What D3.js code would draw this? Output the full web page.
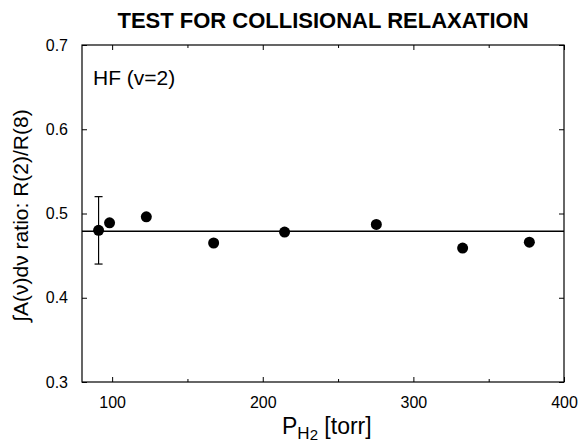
<!DOCTYPE html>
<html><head><meta charset="utf-8">
<script src="https://cdn.jsdelivr.net/npm/d3@7"></script>
<style>body{margin:0;background:#fff;} svg{display:block;font-family:"Liberation Sans",Arial,sans-serif;}</style>
</head><body>
<svg id="chart" width="579" height="442"></svg>
<script>
const pressure = [91, 98.3, 122.7, 167.4, 214.5, 275.4, 332.7, 377];
const ratio = [0.480, 0.489, 0.496, 0.465, 0.478, 0.487, 0.459, 0.466];
const errLow = [0.440, null, null, null, null, null, null, null];
const errHigh = [0.520, null, null, null, null, null, null, null];
const fitLevel = [0.479];
const xTicks = [100, 200, 300, 400];
const xMinorTicks = [150, 250, 350];
const yTicks = [0.3, 0.4, 0.5, 0.6, 0.7];
const xDomain = [80, 400];
const yDomain = [0.3, 0.7];
const title = "TEST FOR COLLISIONAL RELAXATION";
const annotation = "HF (v=2)";

const svg = d3.select("#chart");
const m = {l: 82, r: 564, t: 45, b: 382};
const x = d3.scaleLinear().domain(xDomain).range([m.l, m.r]);
const y = d3.scaleLinear().domain(yDomain).range([m.b, m.t]);

// frame
svg.append("rect").attr("x", m.l).attr("y", m.t).attr("width", m.r - m.l).attr("height", m.b - m.t)
  .attr("fill", "none").attr("stroke", "#000").attr("stroke-width", 1.2);

// axes with inward ticks
const fmt = d3.format(".1f");
svg.append("g").attr("transform", `translate(0,${m.b})`)
  .call(d3.axisBottom(x).tickValues(xTicks).tickSize(-5).tickPadding(15).tickFormat(d3.format("d")))
  .call(g => { g.select(".domain").remove(); g.selectAll("text").attr("font-size", 16).attr("font-family", "Liberation Sans, Arial"); });
svg.append("g").attr("transform", `translate(0,${m.b})`)
  .call(d3.axisBottom(x).tickValues(xMinorTicks).tickSize(-3).tickFormat(""))
  .call(g => g.select(".domain").remove());
svg.append("g").attr("transform", `translate(0,${m.t})`)
  .call(d3.axisTop(x).tickValues(xTicks).tickSize(-5).tickFormat(""))
  .call(g => g.select(".domain").remove());
svg.append("g").attr("transform", `translate(0,${m.t})`)
  .call(d3.axisTop(x).tickValues(xMinorTicks).tickSize(-3).tickFormat(""))
  .call(g => g.select(".domain").remove());
svg.append("g").attr("transform", `translate(${m.l},0)`)
  .call(d3.axisLeft(y).tickValues(yTicks).tickSize(-5).tickPadding(14).tickFormat(fmt))
  .call(g => { g.select(".domain").remove(); g.selectAll("text").attr("font-size", 16).attr("font-family", "Liberation Sans, Arial"); });
svg.append("g").attr("transform", `translate(${m.r},0)`)
  .call(d3.axisRight(y).tickValues(yTicks).tickSize(-5).tickFormat(""))
  .call(g => g.select(".domain").remove());

// fit line
svg.append("line").attr("x1", x(xDomain[0])).attr("x2", x(xDomain[1]))
  .attr("y1", y(fitLevel[0])).attr("y2", y(fitLevel[0]))
  .attr("stroke", "#000").attr("stroke-width", 1.5);

// error bars
const data = pressure.map((p, i) => ({p, r: ratio[i], lo: errLow[i], hi: errHigh[i]}));
const eb = svg.append("g").attr("stroke", "#000").attr("stroke-width", 1.2);
data.filter(d => d.lo != null).forEach(d => {
  eb.append("line").attr("x1", x(d.p)).attr("x2", x(d.p)).attr("y1", y(d.lo)).attr("y2", y(d.hi));
  eb.append("line").attr("x1", x(d.p) - 4).attr("x2", x(d.p) + 4).attr("y1", y(d.lo)).attr("y2", y(d.lo));
  eb.append("line").attr("x1", x(d.p) - 4).attr("x2", x(d.p) + 4).attr("y1", y(d.hi)).attr("y2", y(d.hi));
});

// points
svg.append("g").selectAll("circle").data(data).join("circle")
  .attr("cx", d => x(d.p)).attr("cy", d => y(d.r)).attr("r", 5.5).attr("fill", "#000");

// title
svg.append("text").attr("x", (m.l + m.r) / 2).attr("y", 28).attr("text-anchor", "middle")
  .attr("font-size", 22).attr("font-weight", "bold").text(title);

// annotation
svg.append("text").attr("x", 93).attr("y", 85).attr("font-size", 21).text(annotation);

// y label
svg.append("text").attr("transform", `translate(28,${(m.t + m.b) / 2 + 2}) rotate(-90)`)
  .attr("text-anchor", "middle").attr("font-size", 21).text("∫A(ν)dν ratio: R(2)/R(8)");

// x label
const xl = svg.append("text").attr("x", 282).attr("y", 434).attr("font-size", 23);
xl.append("tspan").text("P");
xl.append("tspan").attr("font-size", 17).attr("dy", 5).text("H");
xl.append("tspan").attr("font-size", 15).attr("dy", 1).text("2");
xl.append("tspan").attr("dy", -6).text(" [torr]");
</script>
</body></html>
